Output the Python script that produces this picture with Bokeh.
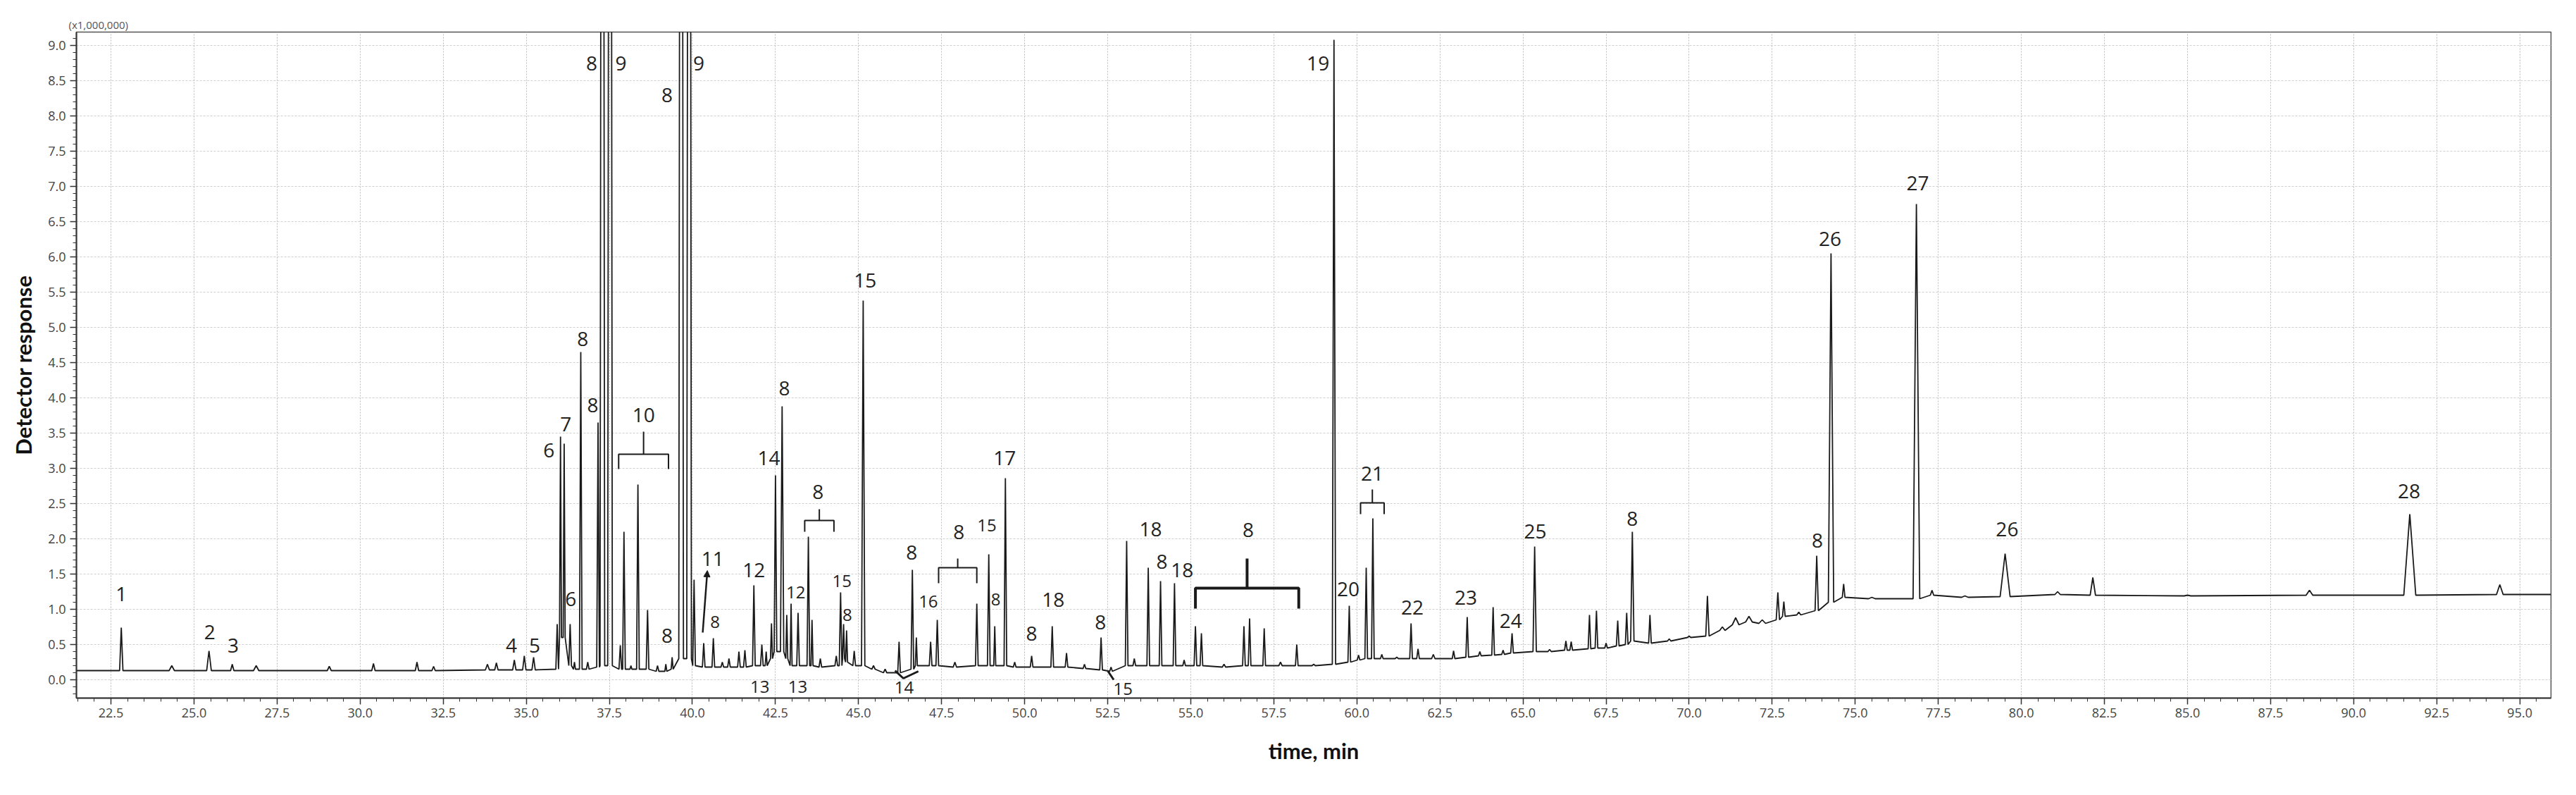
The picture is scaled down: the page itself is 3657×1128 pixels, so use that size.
from bokeh.plotting import figure
from bokeh.models import (ColumnDataSource, Range1d, SingleIntervalTicker,
                          PrintfTickFormatter, Title, Arrow, NormalHead)
from bokeh.core.properties import value
from bokeh.embed import file_html
from bokeh.resources import INLINE

# ---------------- data ----------------
trace_start = [21.46, 0.13]
trace_end = [95.94, 1.21]

peak_time = [22.81, 24.33, 25.45, 26.15, 26.87, 29.07, 30.40, 31.71, 32.21, 33.83,
             34.10, 34.64, 34.94, 35.22, 35.93, 36.03, 36.14, 36.32, 36.45, 36.64,
             36.85, 37.16, 37.29, 37.52, 37.83, 37.94, 38.15, 38.36, 38.65, 38.95,
             39.20, 39.39, 39.66, 39.90, 40.05, 40.34, 40.63, 40.90, 41.10, 41.40,
             41.58, 41.85, 42.09, 42.22, 42.38, 42.50, 42.70, 42.84, 42.97, 43.18,
             43.49, 43.60, 43.85, 44.33, 44.46, 44.55, 44.64, 44.87, 45.14, 45.45,
             45.80, 46.22, 46.62, 46.74, 47.17, 47.37, 47.90, 48.56, 48.92, 49.10,
             49.42, 49.70, 50.21, 50.83, 51.26, 51.80, 52.30, 52.60, 53.07, 53.30,
             53.72, 54.09, 54.51, 54.80, 55.14, 55.32, 56.00, 56.60, 56.77, 57.21,
             57.70, 58.19, 58.70, 59.31, 59.77, 60.05, 60.28, 60.48, 60.75, 61.20,
             61.63, 61.84, 62.30, 62.91, 63.32, 63.70, 64.10, 64.40, 64.67, 65.35,
             65.80, 66.29, 66.45, 67.00, 67.21, 67.50, 67.85, 68.12, 68.29, 68.82,
             69.40, 70.00, 70.55, 71.00, 71.40, 71.80, 72.20, 72.67, 72.85, 73.30,
             73.84, 74.27, 74.65, 75.50, 76.84, 77.31, 78.30, 79.51, 81.09, 82.15,
             85.00, 88.67, 91.69, 94.40]
peak_top = [0.74, 0.20, 0.41, 0.22, 0.20, 0.19, 0.23, 0.25, 0.19, 0.22,
            0.24, 0.28, 0.34, 0.32, 0.79, 3.45, 3.35, 0.79, 0.25, 4.65,
            0.25, 3.65, 30.0, 30.0, 0.49, 2.10, 0.20, 2.77, 0.99, 0.20,
            0.22, 0.32, 30.0, 30.0, 1.42, 0.52, 0.59, 0.25, 0.30, 0.40,
            0.42, 1.34, 0.50, 0.40, 0.80, 2.90, 3.88, 0.92, 1.08, 0.95,
            2.03, 0.85, 0.30, 0.34, 1.24, 0.79, 0.70, 0.41, 5.38, 0.20,
            0.15, 0.54, 1.56, 0.60, 0.54, 0.85, 0.25, 1.08, 1.78, 0.76,
            2.86, 0.25, 0.34, 0.76, 0.38, 0.22, 0.60, 0.18, 1.97, 0.30,
            1.59, 1.40, 1.37, 0.28, 0.76, 0.66, 0.22, 0.76, 0.87, 0.73,
            0.25, 0.50, 0.22, 9.08, 1.05, 0.35, 1.59, 2.29, 0.36, 0.32,
            0.80, 0.44, 0.36, 0.41, 0.89, 0.40, 1.03, 0.42, 0.66, 1.89,
            0.43, 0.55, 0.54, 0.92, 0.98, 0.52, 0.84, 0.95, 2.10, 0.92,
            0.58, 0.62, 1.19, 0.75, 0.88, 0.90, 0.85, 1.24, 1.11, 0.96,
            1.76, 6.05, 1.36, 1.17, 6.75, 1.27, 1.19, 1.79, 1.25, 1.45,
            1.20, 1.27, 2.35, 1.35]
peak_base = [0.13, 0.13, 0.13, 0.13, 0.13, 0.13, 0.13, 0.13, 0.13, 0.14,
             0.14, 0.14, 0.14, 0.14, 0.15, 0.60, 0.60, 0.20, 0.15, 0.15,
             0.15, 0.18, 0.20, 0.20, 0.15, 0.15, 0.15, 0.15, 0.15, 0.12,
             0.12, 0.15, 0.30, 0.30, 0.20, 0.18, 0.18, 0.18, 0.18, 0.18,
             0.18, 0.20, 0.20, 0.20, 0.30, 0.40, 0.40, 0.30, 0.20, 0.20,
             0.20, 0.20, 0.18, 0.20, 0.20, 0.30, 0.25, 0.20, 0.20, 0.15,
             0.10, 0.10, 0.15, 0.20, 0.20, 0.20, 0.18, 0.20, 0.20, 0.20,
             0.20, 0.18, 0.18, 0.18, 0.18, 0.16, 0.14, 0.12, 0.20, 0.20,
             0.20, 0.20, 0.20, 0.20, 0.20, 0.20, 0.18, 0.20, 0.20, 0.20,
             0.20, 0.20, 0.20, 0.22, 0.25, 0.28, 0.30, 0.30, 0.30, 0.30,
             0.30, 0.30, 0.30, 0.30, 0.32, 0.34, 0.35, 0.36, 0.38, 0.40,
             0.40, 0.42, 0.42, 0.44, 0.45, 0.45, 0.48, 0.50, 0.55, 0.52,
             0.55, 0.60, 0.62, 0.70, 0.78, 0.82, 0.80, 0.85, 0.90, 0.92,
             0.98, 1.10, 1.17, 1.15, 1.15, 1.20, 1.17, 1.18, 1.21, 1.20,
             1.19, 1.20, 1.20, 1.21]
peak_halfwidth = [0.05, 0.08, 0.07, 0.05, 0.08, 0.06, 0.05, 0.05, 0.05, 0.06,
                  0.05, 0.05, 0.05, 0.05, 0.04, 0.03, 0.03, 0.04, 0.03, 0.04,
                  0.04, 0.04, 0.07, 0.07, 0.04, 0.04, 0.03, 0.04, 0.04, 0.04,
                  0.03, 0.03, 0.07, 0.07, 0.04, 0.04, 0.04, 0.04, 0.04, 0.04,
                  0.04, 0.04, 0.04, 0.03, 0.03, 0.04, 0.05, 0.03, 0.03, 0.04,
                  0.04, 0.03, 0.04, 0.04, 0.04, 0.03, 0.03, 0.04, 0.05, 0.05,
                  0.05, 0.04, 0.04, 0.03, 0.04, 0.04, 0.05, 0.04, 0.04, 0.03,
                  0.04, 0.04, 0.04, 0.04, 0.04, 0.04, 0.04, 0.04, 0.04, 0.04,
                  0.04, 0.04, 0.04, 0.04, 0.04, 0.04, 0.05, 0.04, 0.04, 0.04,
                  0.05, 0.04, 0.05, 0.05, 0.04, 0.04, 0.04, 0.04, 0.04, 0.05,
                  0.04, 0.04, 0.05, 0.04, 0.04, 0.04, 0.04, 0.04, 0.04, 0.05,
                  0.05, 0.04, 0.04, 0.04, 0.04, 0.04, 0.04, 0.04, 0.05, 0.04,
                  0.05, 0.05, 0.05, 0.08, 0.10, 0.10, 0.10, 0.05, 0.04, 0.06,
                  0.05, 0.08, 0.04, 0.10, 0.10, 0.05, 0.10, 0.15, 0.08, 0.08,
                  0.10, 0.10, 0.18, 0.10]

label_text = ["1", "2", "3", "4", "5", "6", "7", "6", "8", "8", "8", "9", "10", "8", "8", "9",
              "11", "8", "12", "13", "14", "8", "12", "13", "8", "15", "8", "15", "14", "8",
              "16", "8", "15", "8", "17", "8", "18", "8", "15", "18", "8", "18", "8", "19",
              "20", "21", "22", "23", "24", "25", "8", "8", "26", "27", "26", "28"]
label_time = [22.81, 25.47, 26.18, 34.55, 35.25, 35.68, 36.19, 36.34, 36.70, 37.00, 36.97, 37.85,
              38.53, 39.24, 39.24, 40.19, 40.61, 40.68, 41.85, 42.03, 42.30, 42.77, 43.11, 43.17,
              43.78, 44.50, 44.66, 45.20, 46.37, 46.60, 47.10, 48.02, 48.86, 49.13, 49.40, 50.21,
              50.86, 52.28, 52.96, 53.79, 54.13, 54.74, 56.73, 58.83, 59.74, 60.46, 61.67, 63.28,
              64.63, 65.37, 68.29, 73.86, 74.24, 76.88, 79.57, 91.67]
label_resp = [1.22, 0.68, 0.49, 0.49, 0.49, 3.26, 3.63, 1.15, 4.84, 3.90, 8.75, 8.75,
              3.76, 0.63, 8.30, 8.75, 1.72, 0.82, 1.56, -0.10, 3.15, 4.14, 1.24, -0.10,
              2.67, 1.40, 0.92, 5.67, -0.11, 1.81, 1.11, 2.10, 2.19, 1.14, 3.15, 0.66,
              1.14, 0.82, -0.13, 2.14, 1.68, 1.56, 2.13, 8.75, 1.29, 2.93, 1.03, 1.17,
              0.84, 2.11, 2.29, 1.98, 6.26, 7.05, 2.14, 2.68]
small_labels = [17, 19, 22, 23, 25, 26, 28, 30, 32, 33, 38]

bracket_left = [37.78, 43.38, 47.41, 55.14, 60.11]
bracket_right = [39.28, 44.26, 48.56, 58.25, 60.82]
bracket_level = [3.20, 2.26, 1.59, 1.30, 2.51]
bracket_end = [2.99, 2.10, 1.37, 1.01, 2.35]
bracket_tip = [3.52, 2.42, 1.72, 1.72, 2.70]
bracket_bold = [False, False, False, True, False]

brace14_time = [46.10, 46.35, 46.80]
brace14_resp = [0.13, 0.02, 0.12]
mark15_time = [52.51, 52.68]
mark15_resp = [0.12, 0.00]
arrow11 = [40.31, 0.67, 40.45, 1.55]

x_ticks_interval = 2.5
y_ticks_interval = 0.5

# ---------------- build trace ----------------
trace_x = [trace_start[0]]
trace_y = [trace_start[1]]
for t, top, b, hw in zip(peak_time, peak_top, peak_base, peak_halfwidth):
    trace_x += [t - hw, t, t + hw]
    trace_y += [b, top, b]
trace_x.append(trace_end[0])
trace_y.append(trace_end[1])

FONT = "Open Sans"
X0, X1, Y0, Y1 = 21.46, 95.94, -0.26, 9.19
p = figure(frame_width=3513, frame_height=945,
           x_range=Range1d(X0, X1), y_range=Range1d(Y0, Y1),
           output_backend="svg", toolbar_location=None,
           min_border_left=108, min_border_right=16, min_border_top=45, min_border_bottom=110,
           background_fill_color="white", border_fill_color="white")
p.outline_line_color = "#555555"
p.outline_line_width = 1.5

p.xaxis.ticker = SingleIntervalTicker(interval=x_ticks_interval, num_minor_ticks=5)
p.yaxis.ticker = SingleIntervalTicker(interval=y_ticks_interval, num_minor_ticks=5)
p.xaxis.formatter = PrintfTickFormatter(format="%.1f")
p.yaxis.formatter = PrintfTickFormatter(format="%.1f")
for ax in (p.xaxis[0], p.yaxis[0]):
    ax.axis_line_color = "#333333"
    ax.axis_line_width = 2
    ax.major_tick_line_color = "#333333"
    ax.minor_tick_line_color = "#333333"
    ax.major_tick_line_width = 1.5
    ax.major_tick_out = 9
    ax.major_tick_in = 0
    ax.minor_tick_out = 5
    ax.minor_tick_in = 0
    ax.major_label_text_font = FONT
    ax.major_label_text_font_size = "18px"
    ax.major_label_text_color = "#444444"
    ax.axis_label_text_font = "Lato"
    ax.axis_label_text_font_style = "bold"
    ax.axis_label_text_font_size = "31px"
    ax.axis_label_text_color = "#111111"
p.xaxis.axis_label = "time, min"
p.yaxis.axis_label = "Detector response"
p.xaxis.axis_label_standoff = 25
p.yaxis.axis_label_standoff = 13
p.xaxis.major_label_standoff = 5
p.yaxis.major_label_standoff = 6

p.xgrid.grid_line_color = "#bdbdbd"
p.ygrid.grid_line_color = "#cfcfcf"
p.xgrid.grid_line_dash = "2 2"
p.ygrid.grid_line_dash = "3 2"
p.xgrid.grid_line_width = 1
p.ygrid.grid_line_width = 1.2

p.add_layout(Title(text="(x1,000,000)", align="left", text_font=FONT,
                   text_font_size="15px", text_color="#555555",
                   text_font_style="normal", offset=-11, standoff=1), "above")

p.line(trace_x, trace_y, line_color="#1a1a1a", line_width=1.8)

# brackets
bx, by, bw = [], [], []
for l, r, lv, e, tp, bold in zip(bracket_left, bracket_right, bracket_level,
                                 bracket_end, bracket_tip, bracket_bold):
    m = (l + r) / 2
    bx.append([l, l, m, m, m, r, r])
    by.append([e, lv, lv, tp, lv, lv, e])
    bw.append(4 if bold else 2)
p.multi_line(xs=bx, ys=by, line_color="#1a1a1a", line_width=bw)

p.line(brace14_time, brace14_resp, line_color="#1a1a1a", line_width=3)
p.line(mark15_time, mark15_resp, line_color="#1a1a1a", line_width=3)
p.add_layout(Arrow(end=NormalHead(size=9, fill_color="#1a1a1a", line_color="#1a1a1a"),
                   x_start=arrow11[0], y_start=arrow11[1], x_end=arrow11[2], y_end=arrow11[3],
                   line_color="#1a1a1a", line_width=2.5))

sizes = ["24px" if i in small_labels else "28px" for i in range(len(label_text))]
src = ColumnDataSource(dict(x=label_time, y=label_resp, t=label_text, s=sizes))
p.text(x="x", y="y", text="t", source=src, text_font=value(FONT),
       text_font_size="s", text_align="center", text_baseline="middle",
       text_color="#222222")

open("out.html", "w").write(file_html(p, INLINE))
